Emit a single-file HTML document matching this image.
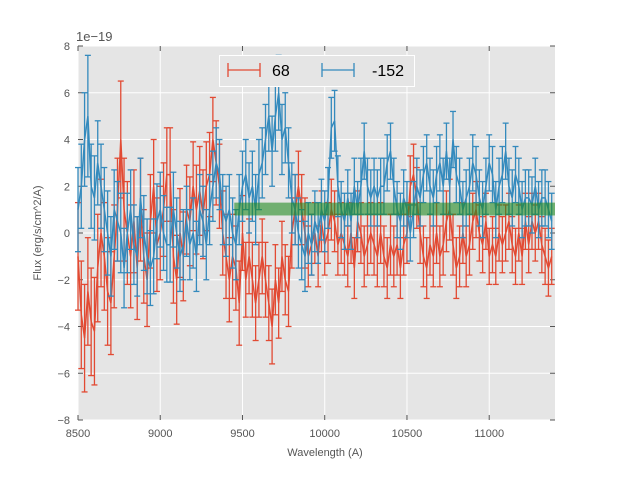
<!DOCTYPE html>
<html><head><meta charset="utf-8"><style>
body{margin:0;background:#fff;}
svg text{font-family:"Liberation Sans",sans-serif;}
</style></head><body>
<svg id="chart" width="617" height="467"></svg>
<script>
const xStart = 8500, xStep = 20;
const redVals = [-1,-3.5,-4.5,-2.5,-3.8,-4.2,-1.5,0,-1,-2.5,
-3,-1,1,4,1,0,-1,0.5,-1.5,1,
-1,-2,0.5,2,-0.5,0,1,2.5,2.5,-1,
-2,0,-1,1,0.5,2,1,1.8,0.8,2,
2.5,4,3,2,0,-1,-2,-1,-1.5,-3,
0,-2,-1,-2,-3,-2,-1,-2,-3,-4,
-2,-3,-1,-2,-2.5,0,1,2,1,0,
-1,-0.5,0,-1,0.5,-0.5,0,1,0.5,-0.5,
0,-0.5,-1,0,-1.5,0.5,0,-1,-0.5,0,
-0.5,-1,0,-1,-1.5,-0.5,-1,-0.5,-1.5,-0.5,
0,2,2.5,1.5,0,-1,-1.5,-0.5,-1,0,
-1,-0.5,0.5,1,-0.5,-1.5,-1,0,-1,-0.5,
0.5,1,0,-0.5,0.5,-1,-0.5,-1,0,-0.5,
0,0.5,-0.5,-1,0,-1,0.5,-0.5,0.5,0,
0.5,-0.5,-1,-1.5,-1];
const blueVals = [1,2,4,5,2,1.5,3,2,1,0,
-1,1,0.5,0,-1.5,0,1,-0.5,-1,1.5,
0,-1,-1.5,-1,0.5,1,0,-0.5,-0.5,1,
0,-1,-0.5,0.5,-0.5,0,-1,1,0.5,-0.5,
1,2,3,2.5,1,0.5,1,0,-0.5,1,
2,2.5,1.5,2,1,2.5,3,4,5,3.5,
5,6,4,4.5,3,1.5,1,0,-0.5,-1,
0,-0.5,0.5,0,1,0.5,1.5,4.5,4.8,2,
1,0.5,1.5,0.5,2,1,2,3.5,2,1.5,
2,1.5,2,2,3,3.5,2,1,0.5,1.5,
1,0,1,2,1.5,2.5,3,2,1.5,2.5,
3,2,3.5,2,4,2.5,2,1,1.5,2,
3,2.5,1.5,1,2,3,2.5,1,2,2.5,
3.5,2,1.5,2.5,2,1,1.5,1.5,1.2,2,
1,1.5,1.5,1,0.5];
const redErr = [2.3,2.3,2.3,2.3,2.3,2.3,2.3,2.3,2.3,2.3,
2.2,2.2,2.2,2.5,2.2,2.2,2.2,2.2,2.2,2.2,
2,2,2,2,2,2,2,2,2,2,
1.9,1.9,1.9,1.9,1.9,1.9,1.9,1.9,1.9,1.9,
1.8,1.8,1.8,1.8,1.8,1.8,1.8,1.8,1.8,1.8,
1.6,1.6,1.6,1.6,1.6,1.6,1.6,1.6,1.6,1.6,
1.5,1.5,1.5,1.5,1.5,1.5,1.5,1.5,1.5,1.5,
1.3,1.3,1.3,1.3,1.3,1.3,1.3,1.3,1.3,1.3,
1.3,1.3,1.3,1.3,1.3,1.3,1.3,1.3,1.3,1.3,
1.3,1.3,1.3,1.3,1.3,1.3,1.3,1.3,1.3,1.3,
1.3,1.3,1.3,1.3,1.3,1.3,1.3,1.3,1.3,1.3,
1.3,1.3,1.3,1.3,1.3,1.3,1.3,1.3,1.3,1.3,
1.2,1.2,1.2,1.2,1.2,1.2,1.2,1.2,1.2,1.2,
1.2,1.2,1.2,1.2,1.2,1.2,1.2,1.2,1.2,1.2,
1.2,1.2,1.2,1.2,1.2];
const blueErr = [1.8,1.8,2,2.6,1.8,1.8,1.8,1.8,1.8,1.8,
1.7,1.7,1.7,1.7,1.7,1.7,1.7,1.7,1.7,1.7,
1.6,1.6,1.6,1.6,1.6,1.6,1.6,1.6,1.6,1.6,
1.5,1.5,1.5,1.5,1.5,1.5,1.5,1.5,1.5,1.5,
1.5,1.5,1.5,1.5,1.5,1.5,1.5,1.5,1.5,1.5,
1.5,1.5,1.5,1.5,1.5,1.5,1.5,1.5,1.5,1.5,
1.5,1.6,1.5,1.5,1.5,1.5,1.5,1.5,1.5,1.5,
1.3,1.3,1.3,1.3,1.3,1.3,1.3,1.3,1.3,1.3,
1.2,1.2,1.2,1.2,1.2,1.2,1.2,1.2,1.2,1.2,
1.2,1.2,1.2,1.2,1.2,1.2,1.2,1.2,1.2,1.2,
1.2,1.2,1.2,1.2,1.2,1.2,1.2,1.2,1.2,1.2,
1.2,1.2,1.2,1.2,1.2,1.2,1.2,1.2,1.2,1.2,
1.2,1.2,1.2,1.2,1.2,1.2,1.2,1.2,1.2,1.2,
1.2,1.2,1.2,1.2,1.2,1.2,1.2,1.2,1.2,1.2,
1.2,1.2,1.2,1.2,1.2];
const xTicks = [8500,9000,9500,10000,10500,11000];
const yTicks = [-8,-6,-4,-2,0,2,4,6,8];
const band = [9450, 11400, 0.75, 1.3];
const seriesNames = ["68","-152"];

const L=78,R=555,T=46,B=420, XMIN=8500,XMAX=11400,YMIN=-8,YMAX=8;
const sx=v=>L+(v-XMIN)/(XMAX-XMIN)*(R-L);
const sy=v=>B-(v-YMIN)/(YMAX-YMIN)*(B-T);
const NS='http://www.w3.org/2000/svg';
const svg=document.getElementById('chart');
function mk(tag,attrs,parent){const e=document.createElementNS(NS,tag);for(const k in attrs)e.setAttribute(k,attrs[k]);(parent||svg).appendChild(e);return e;}

const bg=mk('rect',{x:L,y:T,width:R-L,height:B-T,fill:'#e5e5e5'});


const grid=mk('g',{stroke:'#fff','stroke-width':1});


xTicks.forEach(t=>{mk('line',{x1:sx(t),x2:sx(t),y1:T,y2:B},grid);});
yTicks.forEach(t=>{mk('line',{x1:L,x2:R,y1:sy(t),y2:sy(t)},grid);});
const tk=mk('g',{stroke:'#555','stroke-width':1});
xTicks.forEach(t=>{mk('line',{x1:sx(t),x2:sx(t),y1:T,y2:T+5},tk);mk('line',{x1:sx(t),x2:sx(t),y1:B,y2:B-5},tk);});
yTicks.forEach(t=>{mk('line',{x1:L,x2:L+5,y1:sy(t),y2:sy(t)},tk);mk('line',{x1:R,x2:R-5,y1:sy(t),y2:sy(t)},tk);});
xTicks.forEach(t=>{const e=mk('text',{x:sx(t),y:B+17,'text-anchor':'middle','font-size':11,fill:'#555'});e.textContent=t;

});
yTicks.forEach(t=>{const e=mk('text',{x:L-8,y:sy(t)+4,'text-anchor':'end','font-size':11,fill:'#555'});e.textContent=(t<0?'\u2212'+(-t):t);

});

function series(vals,errs,color,name){
  const g=mk('g',{stroke:color,'stroke-width':1.3,fill:'none'});
  
  
  let d='';
  vals.forEach((v,i)=>{const x=sx(xStart+i*xStep);const y1=sy(v-errs[i]),y2=sy(v+errs[i]);
    mk('line',{x1:x,x2:x,y1:y1,y2:y2},g);
    mk('line',{x1:x-3,x2:x+3,y1:y1,y2:y1},g);
    mk('line',{x1:x-3,x2:x+3,y1:y2,y2:y2},g);
    d+=(i?'L':'M')+x.toFixed(1)+','+sy(v).toFixed(1);});
  mk('path',{d:d,'stroke-width':1.5},g);
}
series(redVals,redErr,'#E24A33','series-68');
series(blueVals,blueErr,'#348ABD','series-minus-152');
const bd=mk('rect',{x:sx(band[0]),y:sy(band[3]),width:sx(band[1])-sx(band[0]),height:sy(band[2])-sy(band[3]),fill:'#228B22','fill-opacity':0.6});



const lg=mk('g',{});


mk('rect',{x:219.5,y:55.5,width:195,height:31,fill:'#e5e5e5',stroke:'#fff'},lg);
[['#E24A33',228,seriesNames[0],272],['#348ABD',322,seriesNames[1],372]].forEach(([c,x0,lab,tx])=>{
  const eg=mk('g',{stroke:c,'stroke-width':1.3},lg);
  
  
  mk('line',{x1:x0,x2:x0+32,y1:70,y2:70},eg);
  mk('line',{x1:x0,x2:x0,y1:63,y2:77},eg);
  mk('line',{x1:x0+32,x2:x0+32,y1:63,y2:77},eg);
  const t=mk('text',{x:tx,y:76,'font-size':16,fill:'#000'},lg);t.textContent=lab;
});
</script>
<svg width="0" height="0"></svg>
<div style="position:absolute;left:76px;top:29px;font:13px 'Liberation Sans',sans-serif;color:#555">1e−19</div>
<div style="position:absolute;left:155px;top:447px;width:340px;text-align:center;font:11px 'Liberation Sans',sans-serif;color:#555">Wavelength (A)</div>
<div style="position:absolute;left:38px;top:233px;transform:translate(-50%,-50%) rotate(-90deg);white-space:nowrap;font:11px 'Liberation Sans',sans-serif;color:#555">Flux (erg/s/cm^2/A)</div>
</body></html>
